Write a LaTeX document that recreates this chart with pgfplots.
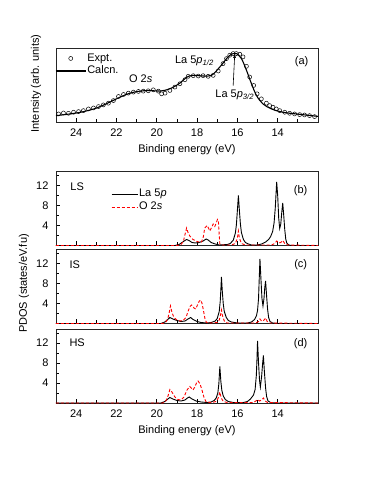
\documentclass[border=0pt]{standalone}
\usepackage{fontspec}
\setmainfont{Liberation Sans}
\usepackage{pgfplots}
\pgfplotsset{compat=1.18}
\usetikzlibrary{arrows.meta}

\newcommand{\fs}{\fontsize{11}{13}\selectfont}

\pgfplotsset{
  be/.style={
    scale only axis, width=262pt, height=74pt,
    x dir=reverse, xmin=12, xmax=25,
    xtick={14,16,...,24}, minor xtick={13,15,...,23},
    tick pos=left, tick align=inside,
    major tick length=4.5pt, minor tick length=3.5pt,
    every tick/.style={black, line width=0.7pt},
    axis line style={line width=0.9pt, black!85},
    tick label style={font=\fs},
    label style={font=\fs},
    /pgf/number format/assume math mode=true,
    xticklabel style={yshift=-3pt},
    xlabel style={at={(axis description cs:0.5,0)}, anchor=center, yshift=-28pt},
  },
  dos/.style={be,
    ymin=0, ymax=14.8,
    ytick={4,8,12}, minor ytick={2,6,10,14},
    yticklabel style={xshift=-4pt},
  },
  la/.style={black, line width=0.9pt},
  ox/.style={red, densely dashed, line width=0.9pt},
  markleg/.style={legend image code/.code={\draw[white, opacity=0, line width=0.1pt] (0pt,0pt) -- (30pt,0pt);
    \draw[black, solid, opacity=1, line width=0.5pt] (15pt,0pt) circle[radius=2pt];}},
  lineleg/.style={legend image code/.code={\draw[black, line width=1.1pt] (0pt,0pt) -- (30pt,0pt);}},
  laleg/.style={legend image code/.code={\draw[black, line width=0.9pt] (0pt,0pt) -- (26pt,0pt);}},
  oxleg/.style={legend image code/.code={\draw[red, densely dashed, line width=0.9pt] (0pt,0pt) -- (26pt,0pt);}},
}

% O 2s / La 5p partial DOS (states/eV f.u.)
\pgfplotstableread{
x y
25 0
19.1 0
18.9 0.2
18.75 0.6
18.6 1.0
18.52 1.2
18.4 1.0
18.25 0.6
18.1 0.5
17.9 0.6
17.7 0.9
17.55 1.3
17.45 1.1
17.3 0.6
17.1 0.3
16.9 0.1
16.5 0.2
16.35 0.4
16.2 1.1
16.1 2.5
16.05 4.1
16.0 7.0
15.95 10.0
15.9 7.0
15.85 4.3
15.8 2.6
15.7 1.2
15.6 0.6
15.45 0.3
15.3 0.1
15.0 0.1
14.8 0.3
14.6 0.7
14.45 1.2
14.35 1.8
14.25 2.8
14.18 4.5
14.12 7.5
14.08 10.5
14.05 12.7
14.0 10.0
13.95 5.5
13.9 3.4
13.85 4.2
13.8 6.5
13.75 8.5
13.7 6.0
13.65 3.2
13.6 1.3
13.55 0.5
13.45 0.1
13.3 0
12 0
}\lsLa
\pgfplotstableread{
x y
25 0
19.0 0
18.8 0.2
18.68 0.8
18.6 2.2
18.52 3.5
18.45 2.6
18.36 1.9
18.2 1.2
18.0 0.8
17.8 0.6
17.7 1.5
17.62 3.5
17.5 4.0
17.4 3.2
17.37 2.9
17.28 3.6
17.2 4.3
17.12 3.8
17.05 4.5
16.99 5.2
16.94 4.8
16.9 2.0
16.87 0.3
16.8 0.1
16.3 0.1
16.1 0.4
16.0 1.5
15.95 2.9
15.9 1.5
15.8 0.4
15.6 0.1
14.3 0.1
14.15 0.4
14.05 0.9
13.95 0.5
13.85 0.6
13.75 1.0
13.65 0.4
13.5 0.1
12 0
}\lsO
\pgfplotstableread{
x y
25 0
19.8 0
19.6 0.3
19.45 0.8
19.35 1.2
19.2 0.9
19.0 0.6
18.8 0.4
18.6 0.5
18.45 0.9
18.32 1.2
18.2 0.8
18.0 0.4
17.8 0.2
17.5 0.1
17.3 0.2
17.1 0.5
17.0 1.0
16.9 2.4
16.85 4.5
16.82 6.8
16.79 9.3
16.75 6.5
16.7 3.9
16.65 2.4
16.55 1.2
16.45 0.6
16.3 0.3
16.0 0.1
15.5 0.1
15.3 0.3
15.15 0.8
15.05 1.6
15.0 2.6
14.95 5.0
14.92 8.5
14.88 12.9
14.83 8.8
14.78 5.0
14.73 3.5
14.68 5.0
14.64 7.2
14.6 8.5
14.55 5.5
14.5 2.8
14.45 1.2
14.38 0.4
14.25 0.1
14.0 0
12 0
}\isLa
\pgfplotstableread{
x y
25 0
19.7 0
19.55 0.3
19.45 1.0
19.38 2.2
19.32 3.5
19.25 2.3
19.15 1.2
19.0 0.7
18.85 0.5
18.7 0.6
18.55 1.2
18.45 2.4
18.35 3.4
18.27 3.7
18.15 3.1
18.07 2.9
17.98 3.7
17.9 4.4
17.83 4.7
17.75 4.0
17.68 2.5
17.6 0.8
17.53 0.2
17.3 0.1
17.0 0.2
16.9 0.7
16.83 1.8
16.79 2.7
16.74 1.6
16.65 0.5
16.5 0.1
15.1 0.1
14.95 0.4
14.88 0.9
14.8 0.5
14.73 0.5
14.65 0.8
14.6 1.1
14.52 0.4
14.4 0.1
12 0
}\isO
\pgfplotstableread{
x y
25 0
19.8 0
19.6 0.3
19.45 0.8
19.35 1.1
19.2 0.8
19.0 0.5
18.8 0.4
18.6 0.6
18.48 1.0
18.39 1.2
18.25 0.8
18.05 0.4
17.8 0.2
17.5 0.1
17.3 0.2
17.15 0.5
17.05 1.0
16.97 2.0
16.92 3.8
16.87 7.3
16.82 4.3
16.77 2.5
16.7 1.4
16.6 0.7
16.45 0.3
16.2 0.1
15.7 0.1
15.5 0.3
15.35 0.8
15.2 1.6
15.12 2.7
15.06 5.5
15.03 8.5
15.0 12.4
14.95 8.0
14.9 4.5
14.86 3.2
14.8 5.2
14.75 7.8
14.71 9.5
14.66 6.3
14.6 3.0
14.55 1.3
14.48 0.4
14.35 0.1
14.1 0
12 0
}\hsLa
\pgfplotstableread{
x y
25 0
19.7 0
19.55 0.4
19.45 1.3
19.35 2.7
19.25 2.2
19.1 1.2
18.95 0.7
18.8 0.6
18.65 1.2
18.5 2.6
18.36 3.3
18.2 2.6
18.1 3.3
18.02 4.1
17.95 4.4
17.85 3.8
17.75 2.5
17.65 1.0
17.55 0.2
17.3 0.1
17.05 0.3
16.95 1.0
16.87 2.2
16.8 1.0
16.7 0.3
16.5 0.1
15.2 0.1
15.05 0.5
15.0 0.7
14.9 0.4
14.8 0.6
14.71 1.0
14.62 0.4
14.5 0.1
12 0
}\hsO

\begin{document}
\begin{tikzpicture}
\path[use as bounding box] (0,0) rectangle (374pt,-491pt);

% (a) valence band spectrum
\begin{axis}[be, at={(56pt,-48pt)}, anchor=north west,
  ymin=0, ymax=1, ytick=\empty,
  xlabel={Binding energy (eV)},
  ylabel={Intensity (arb. units)},
  ylabel style={at={(axis description cs:-0.076,0.52)}, anchor=center},
  legend style={at={(axis description cs:0,1)}, anchor=north west, xshift=-1pt, yshift=-4pt,
    draw=none, fill=none, font=\fs, inner sep=0pt, row sep=0pt,
    nodes={inner sep=1pt, text height=8pt, text depth=2.5pt}},
  legend cell align=left]
\addplot[only marks, mark=o, mark size=2pt, mark options={line width=0.5pt}, markleg] coordinates {
(24.87,0.109)(24.63,0.122)(24.38,0.118)(24.13,0.132)(23.88,0.141)(23.64,0.154)
(23.39,0.177)(23.14,0.19)(22.89,0.209)(22.65,0.231)(22.40,0.254)(22.15,0.29)
(21.90,0.345)(21.65,0.372)(21.41,0.39)(21.16,0.404)(20.91,0.413)(20.67,0.417)
(20.42,0.422)(20.17,0.435)(19.92,0.417)(19.76,0.381)(19.59,0.39)(19.35,0.426)
(19.10,0.472)(18.85,0.517)(18.60,0.571)(18.44,0.617)(18.19,0.626)(17.94,0.621)
(17.70,0.626)(17.45,0.617)(17.20,0.630)(16.95,0.689)(16.71,0.789)(16.54,0.857)
(16.38,0.902)(16.21,0.925)(16.05,0.925)(15.88,0.916)(15.72,0.88)(15.55,0.753)
(15.39,0.608)(15.19,0.494)(15.02,0.381)(14.81,0.313)(14.56,0.254)(14.40,0.222)
(14.23,0.2)(14.07,0.177)(13.90,0.154)(13.65,0.132)(13.41,0.118)(13.16,0.109)
(12.91,0.1)(12.67,0.095)(12.42,0.086)(12.17,0.073)};
\addplot[black, line width=1.1pt, smooth, tension=0.6, lineleg] coordinates {
(25.0,0.086)(24.3,0.109)(23.64,0.14)(22.98,0.19)(22.32,0.27)(21.82,0.336)
(21.33,0.39)(20.83,0.417)(20.34,0.426)(19.84,0.418)(19.35,0.449)(18.85,0.526)
(18.52,0.605)(18.19,0.63)(17.7,0.622)(17.28,0.632)(16.87,0.744)(16.46,0.88)
(16.21,0.925)(16.04,0.925)(15.8,0.857)(15.55,0.70)(15.3,0.517)(15.05,0.358)
(14.73,0.245)(14.31,0.177)(13.74,0.132)(13.08,0.109)(12.0,0.076)};
\legend{Expt., Calcn.}
\node[font=\fs] at (axis cs:20.8,0.58) {O 2\textit{s}};
\node[font=\fs] at (axis cs:18.13,0.83) {La 5\textit{p}\textsubscript{\textit{1/2}}};
\node[font=\fs] at (axis cs:16.13,0.365) {La 5\textit{p}\textsubscript{\textit{3/2}}};
\draw[-{Latex[length=4pt,width=3pt]}, line width=0.6pt] (axis cs:16.21,0.49) -- (axis cs:16.13,0.92);
\node[font=\fs] at (axis cs:12.81,0.81) {(a)};
\end{axis}

% (b) LS
\begin{axis}[dos, at={(56pt,-171.5pt)}, anchor=north west, xticklabels={},
  legend style={at={(axis description cs:0.21,0.785)}, anchor=north west,
    draw=none, fill=none, font=\fs, inner sep=0pt, row sep=0pt,
    nodes={inner sep=1pt, text height=8pt, text depth=3pt}},
  legend cell align=left]
\addplot[la, laleg] table {\lsLa};
\addplot[ox, oxleg] table {\lsO};
\legend{La 5\textit{p}, O 2\textit{s}}
\node[font=\fs] at (axis cs:23.95,11.8) {LS};
\node[font=\fs] at (axis cs:12.86,11.0) {(b)};
\end{axis}

% (c) IS
\begin{axis}[dos, at={(56pt,-249.5pt)}, anchor=north west, xticklabels={},
  ylabel={PDOS (states/eV.fu)},
  ylabel style={at={(axis description cs:-0.122,0.54)}, anchor=center}]
\addplot[la] table {\isLa};
\addplot[ox] table {\isO};
\node[font=\fs] at (axis cs:24.07,11.7) {IS};
\node[font=\fs] at (axis cs:12.86,11.8) {(c)};
\end{axis}

% (d) HS
\begin{axis}[dos, at={(56pt,-329pt)}, anchor=north west,
  xlabel={Binding energy (eV)}]
\addplot[la] table {\hsLa};
\addplot[ox] table {\hsO};
\node[font=\fs] at (axis cs:23.95,12.0) {HS};
\node[font=\fs] at (axis cs:12.86,11.9) {(d)};
\end{axis}
\end{tikzpicture}
\end{document}
